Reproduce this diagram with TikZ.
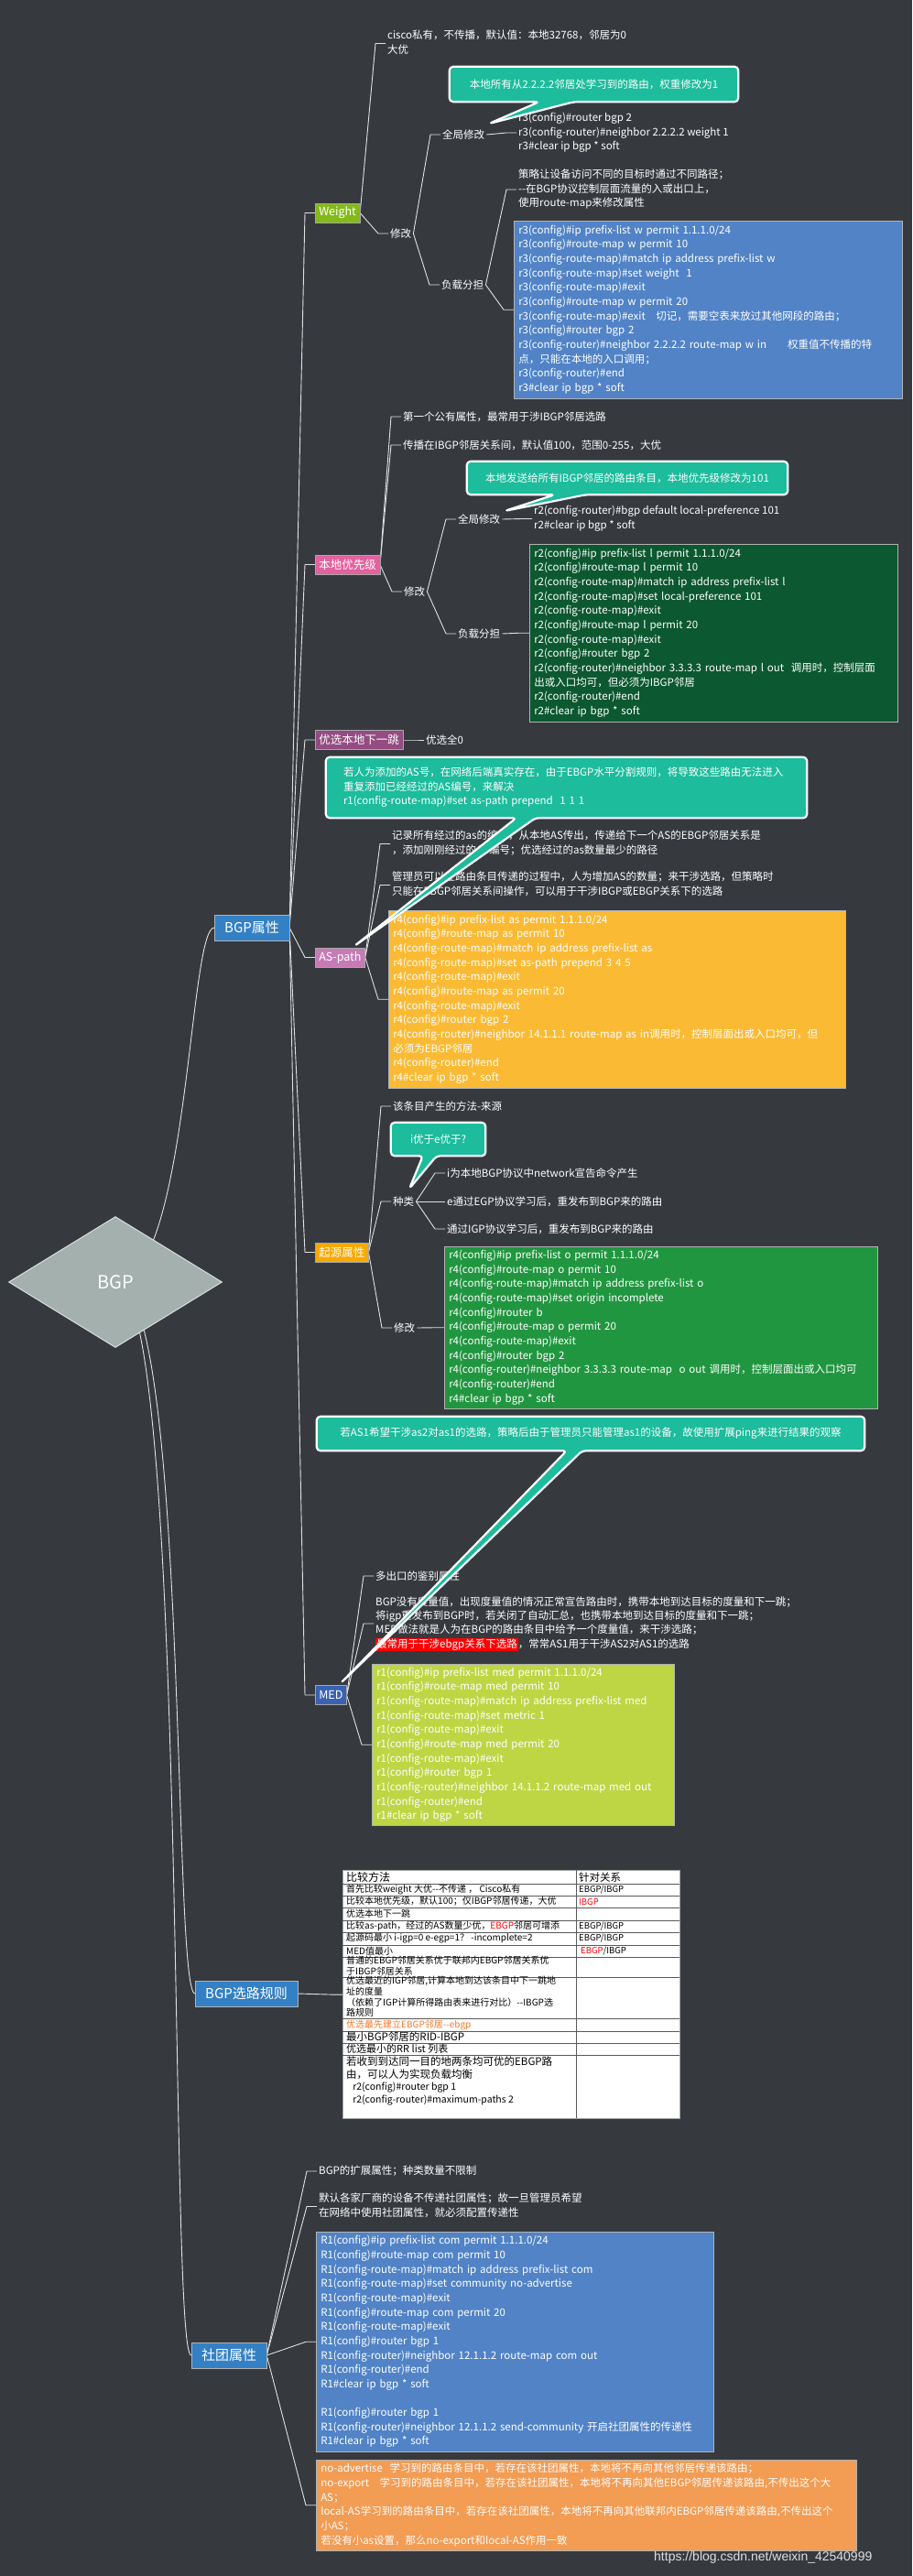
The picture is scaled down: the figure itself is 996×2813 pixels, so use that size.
\documentclass[tikz,border=0pt]{standalone}
\usepackage{fontspec}
\setmainfont{Noto Sans CJK SC}
\newfontfamily\wmfont{Liberation Sans}
\usetikzlibrary{shapes.geometric,calc}
\definecolor{bgc}{RGB}{54,58,63}
\definecolor{rootc}{RGB}{163,176,173}
\definecolor{mainblue}{RGB}{52,128,196}
\definecolor{cWeight}{RGB}{132,186,24}
\definecolor{cLp}{RGB}{226,98,160}
\definecolor{cNh}{RGB}{148,76,130}
\definecolor{cAs}{RGB}{198,122,182}
\definecolor{cOr}{RGB}{247,169,0}
\definecolor{cMed}{RGB}{58,98,178}
\definecolor{cBlue}{RGB}{81,131,198}
\definecolor{cDkGreen}{RGB}{12,88,48}
\definecolor{cYellow}{RGB}{251,186,52}
\definecolor{cGreen}{RGB}{33,150,64}
\definecolor{cYG}{RGB}{190,214,68}
\definecolor{cOrange}{RGB}{242,156,84}
\definecolor{cTeal}{RGB}{28,188,156}
\definecolor{cOrT}{RGB}{245,120,40}
\setlength{\fboxsep}{1pt}
\newcommand\fbody{\fontsize{11.5}{15.4}\selectfont}
\newcommand\fcode{\fontsize{11.5}{15.65}\selectfont}
\newcommand\ftab{\fontsize{10}{11}\selectfont}
\newcommand\ftabs{\fontsize{9.5}{11}\selectfont}
\newcommand\ttab[1]{\begin{tabular}{@{}l@{}}#1\end{tabular}}
\newcommand\lnk[2]{\draw[conn] (#1.east) -- ($(#2.west)+(-11,0)$) -- (#2.west);}
\newcommand\mycallout[4]{\begin{pgfonlayer}{callshape}\draw[callshape] (#1.north west) -- (#1.north east) -- (#1.south east) -- ($(#1.south west)+(#3,0)$) -- (#4) -- ($(#1.south west)+(#2,0)$) -- (#1.south west) -- cycle;\end{pgfonlayer}}
\pgfdeclarelayer{bg}
\pgfdeclarelayer{lines}
\pgfdeclarelayer{callshape}
\pgfdeclarelayer{calltext}
\pgfsetlayers{bg,lines,main,callshape,calltext}
\tikzset{
 conn/.style={draw=white!88!black, line width=0.9pt},
 txt/.style={text=white, anchor=west, inner sep=2pt, font=\fbody},
 sec/.style={text=white, anchor=west, inner xsep=4pt, inner ysep=0pt, minimum height=21pt, font=\fontsize{12.5}{14}\selectfont, draw=black!35, line width=0.5pt},
 mainn/.style={text=white, fill=mainblue, draw=black!30, line width=0.5pt, inner xsep=11pt, inner ysep=0pt, minimum height=28pt, font=\fontsize{15}{17}\selectfont},
 codebox/.style={text=white, anchor=north west, inner xsep=5pt, inner ysep=0pt, align=left, font=\fcode, draw=black!30, line width=0.5pt},
 calltxt/.style={text=white, font=\fbody, inner sep=0pt},
 callshape/.style={fill=cTeal, draw=white, line width=2.2pt, rounded corners=4pt, line join=round},
 tcell/.style={anchor=west, inner sep=0pt, text=black, font=\ftab},
 tline/.style={draw=black!65, line width=0.6pt}
}
\begin{document}
\begin{tikzpicture}[x=1pt,y=-1pt]
\begin{pgfonlayer}{bg}
\fill[bgc] (0,0) rectangle (996,2813);
\end{pgfonlayer}
\useasboundingbox (0,0) rectangle (996,2813);

% root and main branches
\node[diamond, fill=rootc, draw=white!60!rootc, line width=1pt, minimum width=233pt, minimum height=143pt, inner sep=0pt, text=white, font=\fontsize{20}{22}\selectfont] (root) at (126,1400) {BGP};
\node[mainn] (attr) at (275,1013) {BGP属性};
\node[mainn] (rule) at (269,2177) {BGP选路规则};
\node[mainn] (comm) at (250,2572) {社团属性};

% sections of BGP属性
\node[sec, fill=cWeight] (wt) at (344,232.5) {Weight};
\node[sec, fill=cLp] (lp) at (344,616.5) {本地优先级};
\node[sec, fill=cNh] (nh) at (344,808) {优选本地下一跳};
\node[sec, fill=cAs] (asp) at (344,1045.5) {AS-path};
\node[sec, fill=cOr] (org) at (344,1367.5) {起源属性};
\node[sec, fill=cMed] (med) at (344,1851) {MED};

% Weight
\node[txt] (wt1) at (421,47.5) {\ttab{cisco私有，不传播，默认值：本地32768，邻居为0\\大优}};
\node[txt] (wtm) at (424,255) {修改};
\node[txt] (wtg) at (481,147) {全局修改};
\node[txt] (wtgc) at (564,145) {\ttab{r3(config)\#router bgp 2\\r3(config-router)\#neighbor 2.2.2.2 weight 1\\r3\#clear ip bgp * soft}};
\node[txt] (wtl) at (480,311) {负载分担};
\node[txt] (wtld) at (564,207) {\ttab{策略让设备访问不同的目标时通过不同路径；\\-{}-在BGP协议控制层面流量的入或出口上，\\使用route-map来修改属性}};
\node[codebox, fill=cBlue, text width=414pt, minimum height=194pt] (wtlc) at (561,241) {\ttab{r3(config)\#ip prefix-list w permit 1.1.1.0/24\\
r3(config)\#route-map w permit 10\\
r3(config-route-map)\#match ip address prefix-list w\\
r3(config-route-map)\#set weight\ \ 1\\
r3(config-route-map)\#exit\\
r3(config)\#route-map w permit 20\\
r3(config-route-map)\#exit\quad 切记，需要空表来放过其他网段的路由；\\
r3(config)\#router bgp 2\\
r3(config-router)\#neighbor 2.2.2.2 route-map w in\qquad 权重值不传播的特\\
点，只能在本地的入口调用；\\
r3(config-router)\#end\\
r3\#clear ip bgp * soft}};

% 本地优先级
\node[txt] (lp1) at (438,455) {第一个公有属性，最常用于涉IBGP邻居选路};
\node[txt] (lp2) at (438,486) {传播在IBGP邻居关系间，默认值100，范围0-255，大优};
\node[txt] (lpm) at (439,646) {修改};
\node[txt] (lpg) at (498,567) {全局修改};
\node[txt] (lpgc) at (581,566.5) {\ttab{r2(config-router)\#bgp default local-preference 101\\r2\#clear ip bgp * soft}};
\node[txt] (lpl) at (498,692) {负载分担};
\node[codebox, fill=cDkGreen, text width=392pt, minimum height=194pt] (lplc) at (578,594) {\ttab{r2(config)\#ip prefix-list l permit 1.1.1.0/24\\
r2(config)\#route-map l permit 10\\
r2(config-route-map)\#match ip address prefix-list l\\
r2(config-route-map)\#set local-preference 101\\
r2(config-route-map)\#exit\\
r2(config)\#route-map l permit 20\\
r2(config-route-map)\#exit\\
r2(config)\#router bgp 2\\
r2(config-router)\#neighbor 3.3.3.3 route-map l out\ \ 调用时，控制层面\\
出或入口均可，但必须为IBGP邻居\\
r2(config-router)\#end\\
r2\#clear ip bgp * soft}};

% 下一跳
\node[txt] (nh1) at (463,808) {优选全0};

% AS-path
\node[txt] (as1) at (426,921.5) {\ttab{记录所有经过的as的编号，从本地AS传出，传递给下一个AS的EBGP邻居关系是\\，添加刚刚经过的AS编号；优选经过的as数量最少的路径}};
\node[txt] (as2) at (426,966.5) {\ttab{管理员可以在路由条目传递的过程中，人为增加AS的数量；来干涉选路，但策略时\\只能在EBGP邻居关系间操作，可以用于干涉IBGP或EBGP关系下的选路}};
\node[codebox, fill=cYellow, text width=489pt, minimum height=194pt] (asc) at (424,994) {\ttab{r4(config)\#ip prefix-list as permit 1.1.1.0/24\\
r4(config)\#route-map as permit 10\\
r4(config-route-map)\#match ip address prefix-list as\\
r4(config-route-map)\#set as-path prepend 3 4 5\\
r4(config-route-map)\#exit\\
r4(config)\#route-map as permit 20\\
r4(config-route-map)\#exit\\
r4(config)\#router bgp 2\\
r4(config-router)\#neighbor 14.1.1.1 route-map as in调用时，控制层面出或入口均可，但\\
必须为EBGP邻居\\
r4(config-router)\#end\\
r4\#clear ip bgp * soft}};

% 起源属性
\node[txt] (or1) at (427,1208) {该条目产生的方法-来源};
\node[txt] (ork) at (427,1312) {种类};
\node[txt] (ork1) at (486,1281) {i为本地BGP协议中network宣告命令产生};
\node[txt] (ork2) at (486,1312) {e通过EGP协议学习后，重发布到BGP来的路由};
\node[txt] (ork3) at (486,1342) {通过IGP协议学习后，重发布到BGP来的路由};
\node[txt] (orm) at (428,1450) {修改};
\node[codebox, fill=cGreen, text width=463pt, minimum height=177pt] (ormc) at (485,1361) {\ttab{r4(config)\#ip prefix-list o permit 1.1.1.0/24\\
r4(config)\#route-map o permit 10\\
r4(config-route-map)\#match ip address prefix-list o\\
r4(config-route-map)\#set origin incomplete\\
r4(config)\#router b\\
r4(config)\#route-map o permit 20\\
r4(config-route-map)\#exit\\
r4(config)\#router bgp 2\\
r4(config-router)\#neighbor 3.3.3.3 route-map\ \ o out 调用时，控制层面出或入口均可\\
r4(config-router)\#end\\
r4\#clear ip bgp * soft}};

% MED
\node[txt] (md1) at (408,1721) {多出口的鉴别属性};
\node[txt] (md2) at (408,1773) {\ttab{BGP没有度量值，出现度量值的情况正常宣告路由时，携带本地到达目标的度量和下一跳；\\将igp重发布到BGP时，若关闭了自动汇总，也携带本地到达目标的度量和下一跳；\\MED做法就是人为在BGP的路由条目中给予一个度量值，来干涉选路；\\\colorbox{red}{最常用于干涉ebgp关系下选路}，常常AS1用于干涉AS2对AS1的选路}};
\node[codebox, fill=cYG, text width=320pt, minimum height=176pt] (mdc) at (406,1817) {\ttab{r1(config)\#ip prefix-list med permit 1.1.1.0/24\\
r1(config)\#route-map med permit 10\\
r1(config-route-map)\#match ip address prefix-list med\\
r1(config-route-map)\#set metric 1\\
r1(config-route-map)\#exit\\
r1(config)\#route-map med permit 20\\
r1(config-route-map)\#exit\\
r1(config)\#router bgp 1\\
r1(config-router)\#neighbor 14.1.1.2 route-map med out\\
r1(config-router)\#end\\
r1\#clear ip bgp * soft}};

% table
\node[draw=gray!70, line width=1.2pt, fill=white, minimum width=368pt, minimum height=271pt, inner sep=0pt, anchor=north west] (tbl) at (374,2042) {};
\foreach \yy in {2057,2070,2083,2097,2110,2124,2137,2159,2204,2218,2231,2244} \draw[tline] (374,\yy) -- (742,\yy);
\draw[tline] (629,2042) -- (629,2313);
\node[tcell, font=\fontsize{12}{13}\selectfont] (th1) at (378,2050) {比较方法};
\node[tcell, font=\fontsize{11.5}{13}\selectfont] (th2) at (632,2050) {针对关系};
\node[tcell] (t1) at (378,2063.5) {首先比较weight 大优-{}-不传递 ， Cisco私有};
\node[tcell, font=\ftabs] (t1r) at (632,2063.5) {EBGP/IBGP};
\node[tcell] (t2) at (378,2076.5) {比较本地优先级，默认100；仅IBGP邻居传递，大优};
\node[tcell, font=\ftabs, text=red] (t2r) at (632,2076.5) {IBGP};
\node[tcell] (t3) at (378,2090) {优选本地下一跳};
\node[tcell] (t4) at (378,2103.5) {比较as-path，经过的AS数量少优，\textcolor{red}{EBGP}邻居可增添};
\node[tcell, font=\ftabs] (t4r) at (632,2103.5) {EBGP/IBGP};
\node[tcell] (t5) at (378,2117) {起源码最小 i-igp=0 e-egp=1？ -incomplete=2};
\node[tcell, font=\ftabs] (t5r) at (632,2117) {EBGP/IBGP};
\node[tcell] (t6) at (378,2130.5) {MED值最小};
\node[tcell, font=\ftabs] (t6r) at (634,2130.5) {\textcolor{red}{EBGP}/IBGP};
\node[tcell] (t7) at (378,2148) {\ttab{普通的EBGP邻居关系优于联邦内EBGP邻居关系优\\于IBGP邻居关系}};
\node[tcell] (t8) at (378,2181.5) {\ttab{优选最近的IGP邻居,计算本地到达该条目中下一跳地\\址的度量\\（依赖了IGP计算所得路由表来进行对比）-{}-IBGP选\\路规则}};
\node[tcell, text=cOrT] (t9) at (378,2211) {优选最先建立EBGP邻居-{}-ebgp};
\node[tcell, font=\fontsize{11.5}{13}\selectfont] (t10) at (378,2224.5) {最小BGP邻居的RID-IBGP};
\node[tcell, font=\fontsize{11}{13}\selectfont] (t11) at (378,2237.5) {优选最小的RR list 列表};
\node[tcell, font=\fontsize{11.5}{13.3}\selectfont, anchor=north west] (t12) at (378,2246) {\ttab{若收到到达同一目的地两条均可优的EBGP路\\由，可以人为实现负载均衡\\{\fontsize{10.5}{13.3}\selectfont\ \ \ r2(config)\#router bgp 1}\\{\fontsize{10.5}{13.3}\selectfont\ \ \ r2(config-router)\#maximum-paths 2}}};

% 社团属性
\node[txt] (cm1) at (346,2371) {BGP的扩展属性；种类数量不限制};
\node[txt] (cm2) at (346,2409.5) {\ttab{默认各家厂商的设备不传递社团属性；故一旦管理员希望\\在网络中使用社团属性，就必须配置传递性}};
\node[codebox, fill=cBlue, text width=424pt, minimum height=240pt] (cmc) at (345,2437) {\ttab{R1(config)\#ip prefix-list com permit 1.1.1.0/24\\
R1(config)\#route-map com permit 10\\
R1(config-route-map)\#match ip address prefix-list com\\
R1(config-route-map)\#set community no-advertise\\
R1(config-route-map)\#exit\\
R1(config)\#route-map com permit 20\\
R1(config-route-map)\#exit\\
R1(config)\#router bgp 1\\
R1(config-router)\#neighbor 12.1.1.2 route-map com out\\
R1(config-router)\#end\\
R1\#clear ip bgp * soft\\
\\
R1(config)\#router bgp 1\\
R1(config-router)\#neighbor 12.1.1.2 send-community 开启社团属性的传递性\\
R1\#clear ip bgp * soft}};
\node[codebox, fill=cOrange, text width=580pt, minimum height=99pt] (cmo) at (345,2686) {\ttab{no-advertise\ \ 学习到的路由条目中，若存在该社团属性，本地将不再向其他邻居传递该路由；\\
no-export\quad 学习到的路由条目中，若存在该社团属性，本地将不再向其他EBGP邻居传递该路由,不传出这个大\\
AS；\\
local-AS学习到的路由条目中，若存在该社团属性，本地将不再向其他联邦内EBGP邻居传递该路由,不传出这个\\
小AS；\\
若没有小as设置，那么no-export和local-AS作用一致}};
\node[anchor=west, inner sep=0pt, text=white!75!gray, font=\wmfont\fontsize{14}{16}\selectfont] (wm) at (714,2793) {https://blog.csdn.net/weixin\_42540999};

% callouts
\begin{pgfonlayer}{calltext}
\node[calltxt, minimum width=315pt, minimum height=38pt] (c1) at (648.5,92) {本地所有从2.2.2.2邻居处学习到的路由，权重修改为1};
\node[calltxt, minimum width=350pt, minimum height=36pt] (c2) at (685,522) {本地发送给所有IBGP邻居的路由条目，本地优先级修改为101};
\node[calltxt, text width=487pt, align=left, inner xsep=19pt, minimum height=66pt] (c3) at (618.5,860) {\ttab{若人为添加的AS号，在网络后端真实存在，由于EBGP水平分割规则，将导致这些路由无法进入\\重复添加已经经过的AS编号，来解决\\r1(config-route-map)\#set as-path prepend\ \ 1 1 1}};
\node[calltxt, minimum width=103pt, minimum height=36pt] (c4) at (478.5,1244) {i优于e优于?};
\node[calltxt, minimum width=598pt, minimum height=37pt] (c5) at (645,1565.5) {若AS1希望干涉as2对as1的选路，策略后由于管理员只能管理as1的设备，故使用扩展ping来进行结果的观察};
\end{pgfonlayer}
\coordinate (c1tip) at (534,135);
\coordinate (c2tip) at (551,558);
\coordinate (c3tip) at (387,1033);
\coordinate (c4tip) at (447,1298);
\coordinate (c5tip) at (372,1838);
\mycallout{c1}{98}{136}{c1tip}
\mycallout{c2}{96}{130}{c2tip}
\mycallout{c3}{208}{229}{c3tip}
\mycallout{c4}{35}{50}{c4tip}
\mycallout{c5}{273}{290}{c5tip}

% connectors
\begin{pgfonlayer}{lines}
\draw[conn] (root.center) .. controls ($(root.center)+(80,0)$) and ($(attr.west)+(-28,0)$) .. (attr.west);
\draw[conn] (root.center) .. controls ($(root.center)+(80,0)$) and ($(rule.west)+(-25,0)$) .. (rule.west);
\draw[conn] (root.center) .. controls ($(root.center)+(80,0)$) and ($(comm.west)+(-25,0)$) .. (comm.west);
\lnk{attr}{wt}\lnk{attr}{lp}\lnk{attr}{nh}\lnk{attr}{asp}\lnk{attr}{org}\lnk{attr}{med}
\lnk{wt}{wt1}\lnk{wt}{wtm}\lnk{wtm}{wtg}\lnk{wtm}{wtl}\lnk{wtg}{wtgc}\lnk{wtl}{wtld}\lnk{wtl}{wtlc}
\lnk{lp}{lp1}\lnk{lp}{lp2}\lnk{lp}{lpm}\lnk{lpm}{lpg}\lnk{lpm}{lpl}\lnk{lpg}{lpgc}\lnk{lpl}{lplc}
\lnk{nh}{nh1}
\lnk{asp}{as1}\lnk{asp}{as2}\lnk{asp}{asc}
\lnk{org}{or1}\lnk{org}{ork}\lnk{org}{orm}\lnk{ork}{ork1}\lnk{ork}{ork2}\lnk{ork}{ork3}\lnk{orm}{ormc}
\lnk{med}{md1}\lnk{med}{md2}\lnk{med}{mdc}
\lnk{rule}{tbl}
\lnk{comm}{cm1}\lnk{comm}{cm2}\lnk{comm}{cmc}\lnk{comm}{cmo}
\end{pgfonlayer}
\end{tikzpicture}
\end{document}
